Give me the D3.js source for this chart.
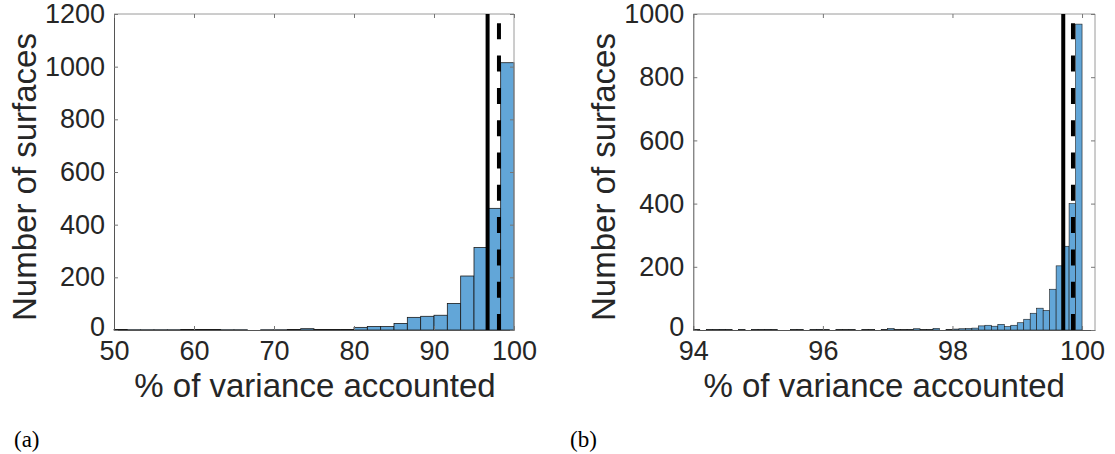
<!DOCTYPE html>
<html>
<head>
<meta charset="utf-8">
<script src="https://cdn.jsdelivr.net/npm/d3@7"></script>
<style>
  html, body { margin: 0; padding: 0; background: #fff; }
  svg { display: block; }
  .tick text { font-family: "Liberation Sans", Arial, Helvetica, sans-serif; }
</style>
</head>
<body>
<svg id="fig" width="1115" height="454"></svg>
<script>
// Panel (a): histogram of % variance accounted, bins of 5/3 from 50 to 100
const binStartA = 50, binWidthA = 5 / 3;
const countsA = [2, 1, 1, 1, 1, 2, 2, 2, 1, 1, 0, 1, 1, 2, 5, 2, 2, 2,
                 10, 13, 13, 25, 48, 52, 56, 101, 205, 313, 462, 1015];
const xTicksA = [50, 60, 70, 80, 90, 100];
const yTicksA = [0, 200, 400, 600, 800, 1000, 1200];
const xDomainA = [50, 100], yDomainA = [0, 1200];
const solidA = 96.7, dashedA = 98.12;

// Panel (b): zoom on 94-100, bins of 0.1
const binStartB = 94, binWidthB = 0.1;
const countsB = [1, 0, 1, 1, 2, 1, 0, 1, 0, 1, 1, 2, 1, 0, 0, 1, 1, 0, 1, 2,
                 1, 0, 1, 1, 1, 0, 1, 1, 0, 1, 5, 1, 1, 1, 4, 1, 1, 5, 0, 1,
                 3, 4, 5, 6, 13, 15, 12, 18, 11, 15, 23, 34, 53, 69, 62, 129, 203, 265, 400, 968];
const xTicksB = [94, 96, 98, 100];
const yTicksB = [0, 200, 400, 600, 800, 1000];
const xDomainB = [94, 100.2], yDomainB = [0, 1000];
const solidB = 99.71, dashedB = 99.86;

const svg = d3.select("#fig");
svg.append("rect").attr("width", 1115).attr("height", 454).attr("fill", "#fff");

const FILL = "#62a6d8";
const TEXT = "#262626";
const fmt = d3.format("d");

function panel(cfg) {
  const { left, right, top, bottom } = cfg.box;
  const x = d3.scaleLinear().domain(cfg.xDomain).range([left, right]);
  const y = d3.scaleLinear().domain(cfg.yDomain).range([bottom, top]);
  const g = svg.append("g");

  // bars
  const bins = cfg.counts.map((c, i) => ({
    x0: cfg.binStart + i * cfg.binWidth,
    x1: cfg.binStart + (i + 1) * cfg.binWidth,
    c
  }));
  g.append("g").selectAll("rect").data(bins).join("rect")
    .attr("x", d => x(d.x0))
    .attr("width", d => x(d.x1) - x(d.x0))
    .attr("y", d => y(d.c))
    .attr("height", d => y(0) - y(d.c))
    .attr("fill", FILL)
    .attr("stroke", "#1a1a1a")
    .attr("stroke-width", cfg.barStroke);

  // box (top/right lighter)
  g.append("line").attr("x1", left).attr("x2", right).attr("y1", top).attr("y2", top)
    .attr("stroke", "#9a9a9a").attr("stroke-width", 1);
  g.append("line").attr("x1", right).attr("x2", right).attr("y1", top).attr("y2", bottom)
    .attr("stroke", "#9a9a9a").attr("stroke-width", 1);

  // axes with inward ticks
  const tl = 4;
  const xAxis = g.append("g").attr("transform", `translate(0,${bottom})`)
    .call(d3.axisBottom(x).tickValues(cfg.xTicks).tickFormat(fmt)
      .tickSizeInner(-tl).tickSizeOuter(0).tickPadding(11));
  const yAxis = g.append("g").attr("transform", `translate(${left},0)`)
    .call(d3.axisLeft(y).tickValues(cfg.yTicks).tickFormat(fmt)
      .tickSizeInner(-tl).tickSizeOuter(0).tickPadding(9));
  g.append("g").attr("transform", `translate(0,${top})`)
    .call(d3.axisTop(x).tickValues(cfg.xTicks).tickSizeInner(-tl).tickSizeOuter(0).tickFormat(""))
    .call(a => a.select(".domain").remove());
  g.append("g").attr("transform", `translate(${right},0)`)
    .call(d3.axisRight(y).tickValues(cfg.yTicks).tickSizeInner(-tl).tickSizeOuter(0).tickFormat(""))
    .call(a => a.select(".domain").remove());
  g.selectAll(".domain").attr("stroke", "#555");
  g.selectAll(".tick line").attr("stroke", "#777");
  xAxis.selectAll("text").attr("font-size", 27).attr("fill", TEXT);
  yAxis.selectAll("text").attr("font-size", 27).attr("fill", TEXT)
    .attr("dy", d => d === 0 ? "0.22em" : "0.32em");

  // reference lines
  g.append("line").attr("x1", x(cfg.solid)).attr("x2", x(cfg.solid))
    .attr("y1", bottom).attr("y2", top)
    .attr("stroke", "#000").attr("stroke-width", 4);
  g.append("line").attr("x1", x(cfg.dashed)).attr("x2", x(cfg.dashed))
    .attr("y1", bottom).attr("y2", top)
    .attr("stroke", "#000").attr("stroke-width", 4)
    .attr("stroke-dasharray", "16,16.3");

  // axis titles
  g.append("text")
    .attr("x", (left + right) / 2 + cfg.xTitleShift).attr("y", 397)
    .attr("text-anchor", "middle")
    .attr("font-family", "Liberation Sans, Arial, sans-serif")
    .attr("font-size", 33).attr("fill", TEXT)
    .text("% of variance accounted");
  g.append("text")
    .attr("transform", `translate(${cfg.yTitleX},${(top + bottom) / 2 + 5}) rotate(-90)`)
    .attr("text-anchor", "middle")
    .attr("font-family", "Liberation Sans, Arial, sans-serif")
    .attr("font-size", 33).attr("fill", TEXT)
    .text("Number of surfaces");

  // panel tag
  svg.append("text")
    .attr("x", cfg.tagX).attr("y", 447)
    .attr("font-family", "Liberation Serif, Times New Roman, serif")
    .attr("font-size", 23).attr("fill", "#000")
    .text(cfg.tag);
}

panel({
  box: { left: 114, right: 514, top: 14, bottom: 330 },
  xDomain: xDomainA, yDomain: yDomainA,
  xTicks: xTicksA, yTicks: yTicksA,
  binStart: binStartA, binWidth: binWidthA, counts: countsA,
  solid: solidA, dashed: dashedA,
  barStroke: 0.8, yTitleX: 36, xTitleShift: 1, tag: "(a)", tagX: 14
});

panel({
  box: { left: 693.3, right: 1095, top: 14, bottom: 330 },
  xDomain: xDomainB, yDomain: yDomainB,
  xTicks: xTicksB, yTicks: yTicksB,
  binStart: binStartB, binWidth: binWidthB, counts: countsB,
  solid: solidB, dashed: dashedB,
  barStroke: 0.6, yTitleX: 615, xTitleShift: -10, tag: "(b)", tagX: 570
});
</script>
</body>
</html>
